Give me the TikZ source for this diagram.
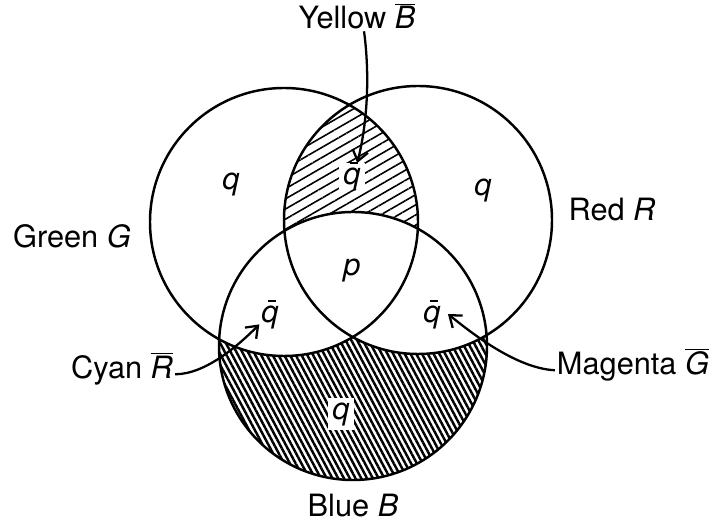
\documentclass[tikz,border=0pt]{standalone}
\usepackage{fontspec}
\setmainfont{TeX Gyre Heros}
\usepackage{tikz}
\usetikzlibrary{positioning,arrows.meta,patterns.meta}

\newcommand{\qbar}{\textit{\ooalign{q\cr\hidewidth\kern0.14em\rule[0.66em]{0.28em}{0.07em}\hidewidth\cr}}}
\newcommand{\lbar}[1]{$\overline{\mbox{\itshape #1}}$}

\begin{document}
\begin{tikzpicture}[
  x=0.02cm, y=-0.02cm,
  font=\fontsize{17.5}{20}\selectfont,
  ring/.style={draw=black, line width=1.4pt},
  lbl/.style={inner sep=1pt},
  tag/.style={inner sep=2.5pt, fill=white},
  hatchY/.style={pattern={Lines[angle=30,distance=5pt,line width=0.9pt]}},
  hatchB/.style={pattern={Lines[angle=-62,distance=2.9pt,line width=1.4pt]}},
  arr/.style={-{Straight Barb[length=6pt,width=9pt,line width=1.3pt]}, line width=1.3pt}
]
\useasboundingbox (0,0) rectangle (714,526);

% ---- circle centres (px grid, y down) ----
\def\rad{134}
\coordinate (cG) at (284,222);
\coordinate (cR) at (418,220);
\coordinate (cB) at (353,346);

% ---- hatched regions ----
\begin{scope}
  \clip (cB) circle[radius=\rad];
  \fill[hatchB] (cB) circle[radius=\rad];
  \fill[white] (cG) circle[radius=\rad];
  \fill[white] (cR) circle[radius=\rad];
\end{scope}
\begin{scope}
  \clip (cG) circle[radius=\rad];
  \clip (cR) circle[radius=\rad];
  \fill[hatchY] (cR) circle[radius=\rad];
  \fill[white] (cB) circle[radius=\rad];
\end{scope}

% ---- outlines ----
\draw[ring] (cG) circle[radius=\rad];
\draw[ring] (cR) circle[radius=\rad];
\draw[ring] (cB) circle[radius=\rad];

% ---- outer labels ----
\node[lbl] (yellow)  at (357,16)  {Yellow \lbar{B}};
\node[lbl] (green)   at (72,236)  {Green \textit{G}};
\node[lbl] (red)     at (612,210) {Red \textit{R}};
\node[lbl] (cyan)    at (122,369) {Cyan \lbar{R}};
\node[lbl] (magenta) at (633,365) {Magenta \lbar{G}};
\node[lbl] (blue)    at (353,506) {Blue \textit{B}};

% ---- region labels ----
\node[lbl] (qG)   at (231,184) {\textit{q}};
\node[lbl] (qR)   at (483,190) {\textit{q}};
\node[tag] (ybar) at (352,176) {\qbar};
\node[lbl] (pp)   at (352,270) {\textit{p}};
\node[lbl] (cbar) at (270,314) {\qbar};
\node[lbl] (mbar) at (432,314) {\qbar};
\node[tag] (qB)   at (341,414) {\textit{q}};

% ---- pointers ----
\draw[arr] ([xshift=4pt]yellow.south) .. controls +(6,45) and +(10,-40) .. ([xshift=3pt]ybar.north);
\draw[arr] ([yshift=-3pt]cyan.east) .. controls +(30,0) and +(-22,22) .. (cbar.south west);
\draw[arr] ([yshift=-3pt]magenta.west) .. controls +(-40,-2) and +(20,16) .. ([xshift=3pt]mbar.east);

\end{tikzpicture}
\end{document}
